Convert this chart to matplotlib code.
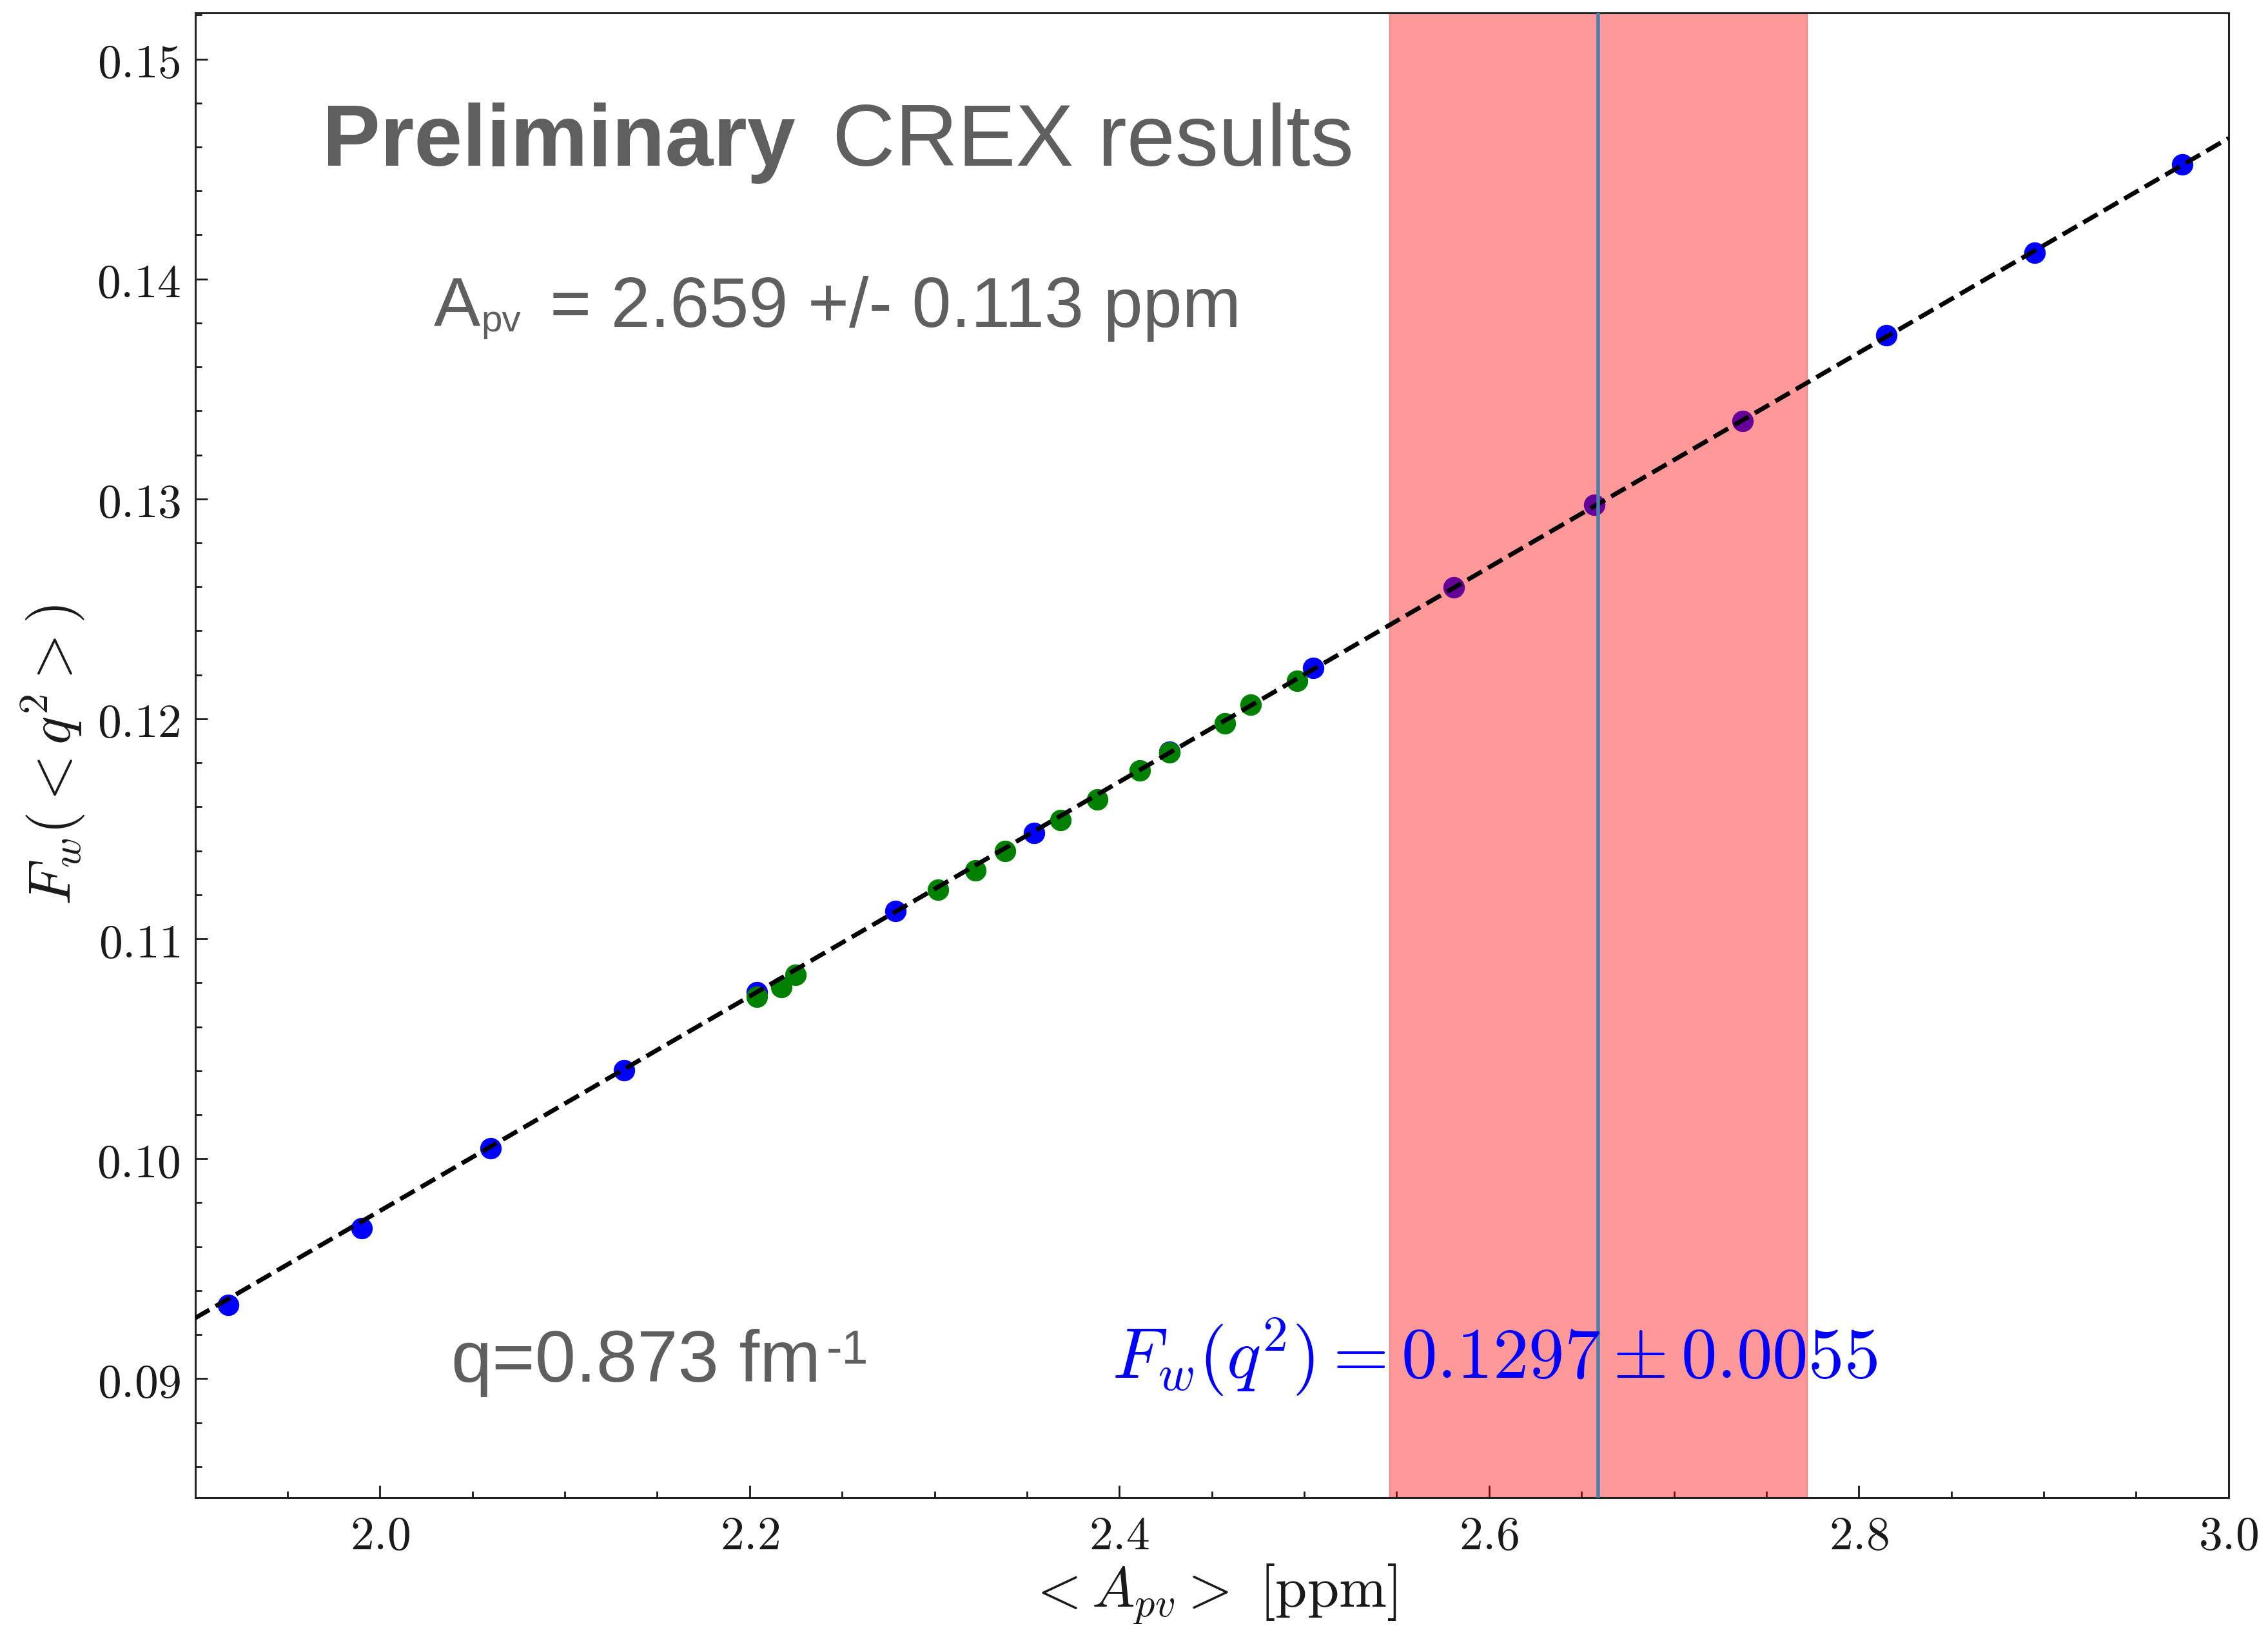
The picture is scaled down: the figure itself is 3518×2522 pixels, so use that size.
import matplotlib
matplotlib.use("Agg")
import matplotlib.pyplot as plt
from matplotlib.ticker import MultipleLocator, FuncFormatter

plt.rcParams["mathtext.fontset"] = "cm"

blue_apv = [1.918, 1.990, 2.060, 2.132, 2.204, 2.279, 2.354, 2.427, 2.505,
            2.581, 2.657, 2.737, 2.815, 2.895, 2.975]
blue_fw = [0.09336, 0.09684, 0.10046, 0.10401, 0.10757, 0.11125, 0.11480, 0.11849,
           0.12230, 0.12599, 0.12974, 0.13355, 0.13743, 0.14118, 0.14520]

green_apv = [2.204, 2.217, 2.225, 2.302, 2.322, 2.338, 2.368, 2.388, 2.411,
             2.427, 2.457, 2.471, 2.496]
green_fw = [0.10736, 0.10781, 0.10836, 0.11223, 0.11311, 0.11399, 0.11539, 0.11633,
            0.11765, 0.11846, 0.11979, 0.12064, 0.12173]

# linear fit through the points
fit_apv = [1.9, 3.0]
fit_fw = [0.09275, 0.14640]

# CREX result
apv_meas = 2.659
apv_err = 0.113

W, H = 3518, 2522
fig = plt.figure(figsize=(W / 100, H / 100), dpi=100)
ax = fig.add_axes([0.0860, 0.0791, 0.8966, 0.9130])

ax.plot(blue_apv, blue_fw, "o", color="blue", ms=23, zorder=1)
ax.plot(green_apv, green_fw, "o", color="green", ms=23, zorder=1.1)
ax.axvspan(apv_meas - apv_err, apv_meas + apv_err, color="red", alpha=0.4, zorder=2)
ax.plot(fit_apv, fit_fw, "--", color="black", lw=5, zorder=3)
ax.axvline(apv_meas, color="#4a7cad", lw=4, zorder=3)

ax.set_xlim(1.9, 3.0)
ax.set_ylim(0.0846, 0.1521)

ax.xaxis.set_major_locator(MultipleLocator(0.2))
ax.xaxis.set_minor_locator(MultipleLocator(0.05))
ax.yaxis.set_major_locator(MultipleLocator(0.01))
ax.yaxis.set_minor_locator(MultipleLocator(0.002))
ax.xaxis.set_major_formatter(FuncFormatter(lambda v, p: r"$%.1f$" % v))
ax.yaxis.set_major_formatter(FuncFormatter(lambda v, p: r"$%.2f$" % v))

ax.tick_params(which="both", direction="in", top=False, right=False,
               width=2, colors="#1a1a1a", labelsize=53)
ax.tick_params(which="major", length=14)
ax.tick_params(which="minor", length=7)
ax.tick_params(axis="y", pad=16)
ax.tick_params(axis="x", pad=17)
for s in ax.spines.values():
    s.set_linewidth(2.2)
    s.set_color("#222222")

ax.set_xlabel(r"$<A_{pv}>\ \mathrm{[ppm]}$", fontsize=64, color="#1a1a1a")
ax.set_ylabel(r"$F_w(<q^2>)$", fontsize=66, color="#1a1a1a")
ax.xaxis.set_label_coords(0.5, -0.044)
ax.yaxis.set_label_coords(-0.053, 0.5)

gray = "#5f5f5f"
sans = ["Liberation Sans", "DejaVu Sans"]


def fx(px):
    return px / W


def fy(py):
    return 1 - py / H


fig.text(fx(500), fy(257), "Preliminary", fontsize=97, fontweight="bold",
         color=gray, family=sans, va="baseline")
fig.text(fx(1291), fy(257), "CREX results", fontsize=97,
         color=gray, family=sans, va="baseline")

fig.text(fx(673), fy(507), "A", fontsize=78, color=gray, family=sans, va="baseline")
fig.text(fx(746), fy(514), "pv", fontsize=42, color=gray, family=sans, va="baseline")
fig.text(fx(853), fy(507), "= 2.659 +/- 0.113 ppm", fontsize=79, color=gray,
         family=sans, va="baseline")

fig.text(fx(700), fy(2143), "q=0.873 fm", fontsize=82, color=gray, family=sans,
         va="baseline")
fig.text(fx(1282), fy(2115), "-1", fontsize=53, color=gray, family=sans, va="baseline")

fig.text(fx(1725), fy(2138), r"$F_w(q^2) = 0.1297 \pm 0.0055$", fontsize=80,
         color="blue", va="baseline")

fig.savefig("out.png", dpi=100)
